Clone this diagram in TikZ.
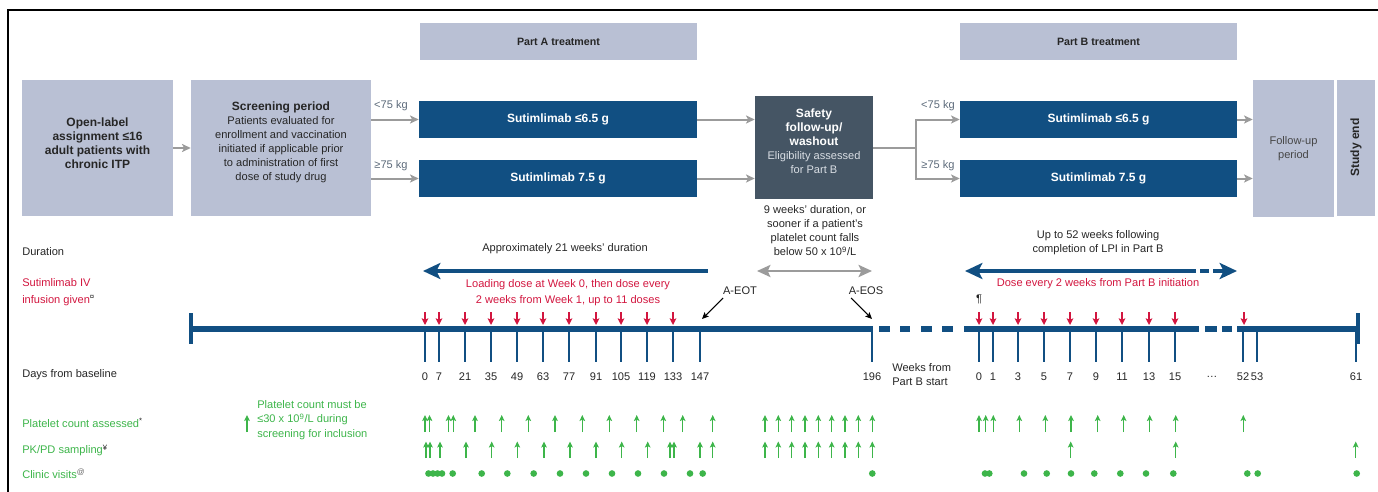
\documentclass[tikz,border=0pt]{standalone}
\usepackage{fontspec}
\setmainfont{Liberation Sans}
\usetikzlibrary{arrows.meta}
\definecolor{lbox}{HTML}{B9C0D4}
\definecolor{dblue}{HTML}{114F82}
\definecolor{slate}{HTML}{455564}
\definecolor{garr}{HTML}{9B9B9B}
\definecolor{tred}{HTML}{D2163F}
\definecolor{tgreen}{HTML}{3DB54A}
\definecolor{txt}{HTML}{262626}
\definecolor{kgtxt}{HTML}{5C6A7A}
\definecolor{safetxt}{HTML}{D9DEE4}
\begin{document}
\begin{tikzpicture}[x=0.75pt,y=-0.75pt,
  every node/.style={font=\fontsize{8.3}{10.5}\selectfont, text=txt, inner sep=0pt},
  lb/.style={fill=lbox, draw=none},
  db/.style={fill=dblue, draw=none, text=white, font=\fontsize{9}{10.5}\selectfont\bfseries},
  bt/.style={font=\fontsize{9}{10.5}\selectfont\bfseries},
  hdr/.style={font=\fontsize{8}{10}\selectfont\bfseries},
  garrow/.style={draw=garr, line width=1.5pt, -{Stealth[length=6.5pt,width=6pt,inset=1.5pt]}},
  gline/.style={draw=garr, line width=1.5pt},
  kgl/.style={text=kgtxt},
  bar/.style={draw=dblue, line width=3.8pt},
  tick/.style={draw=dblue, line width=0.9pt},
  redarr/.style={draw=tred, line width=1pt, -{Stealth[length=5pt,width=5pt,inset=1pt]}},
  grarr/.style={draw=tgreen, line width=1pt, -{Stealth[length=4.5pt,width=4.2pt,inset=1pt]}},
  karr/.style={draw=black, line width=0.8pt, -{Stealth[length=5pt,width=4.5pt,inset=1pt]}},
  durblue/.style={draw=dblue, line width=2.6pt},
  bluehead/.style={-{Stealth[length=13pt,width=12pt,inset=3pt]}},
  bluetail/.style={{Stealth[length=13pt,width=12pt,inset=3pt]}-},
  redtxt/.style={text=tred},
  greentxt/.style={text=tgreen}
]
\useasboundingbox (0,0) rectangle (1378,492);
% frame
\draw[line width=1.5pt] (8,492) -- (8,10) -- (1378,10);

% headers
\node[lb, minimum width=277*0.75pt, minimum height=37*0.75pt, hdr] (partA) at (558.5,41.5) {Part A treatment};
\node[lb, minimum width=277*0.75pt, minimum height=37*0.75pt, hdr] (partB) at (1098.5,41.5) {Part B treatment};

% left boxes
\node[lb, minimum width=151*0.75pt, minimum height=136*0.75pt] (open) at (97.5,148) {};
\node[bt, align=center] (opent) at (97.5,143) {Open-label\\assignment ≤16\\adult patients with\\chronic ITP};
\node[lb, minimum width=180*0.75pt, minimum height=136*0.75pt] (scr) at (281,148) {};
\node[align=center] (scrt) at (281,142) {\textbf{\fontsize{9}{10.5}\selectfont Screening period}\\Patients evaluated for\\enrollment and vaccination\\initiated if applicable prior\\to administration of first\\dose of study drug};
\draw[garrow] (open.east) -- (scr.west);

% part A boxes
\node[db, minimum width=278*0.75pt, minimum height=37*0.75pt] (a1) at (558,119.5) {Sutimlimab ≤6.5 g};
\node[db, minimum width=278*0.75pt, minimum height=37*0.75pt] (a2) at (558,178.5) {Sutimlimab 7.5 g};
\draw[garrow] (scr.east |- a1) -- (a1.west);
\draw[garrow] (scr.east |- a2) -- (a2.west);
\node[kgl] (kgA1) at (391,106) {<75 kg};
\node[kgl] (kgA2) at (391,166) {≥75 kg};

% safety box
\node[fill=slate, minimum width=118*0.75pt, minimum height=103*0.75pt] (saf) at (814,147.5) {};
\node[align=center, text=white, font=\fontsize{9}{10.6}\selectfont] (saft) at (814,141) {\textbf{Safety}\\\textbf{follow-up/}\\\textbf{washout}\\{\color{safetxt}\fontsize{8.3}{10.6}\selectfont Eligibility assessed}\\{\color{safetxt}\fontsize{8.3}{10.6}\selectfont for Part B}};
\draw[garrow] (a1.east) -- (saf.west |- a1);
\draw[garrow] (a2.east) -- (saf.west |- a2);

% part B boxes
\node[db, minimum width=277*0.75pt, minimum height=37*0.75pt] (b1) at (1098.5,119.5) {Sutimlimab ≤6.5 g};
\node[db, minimum width=277*0.75pt, minimum height=37*0.75pt] (b2) at (1098.5,178.5) {Sutimlimab 7.5 g};
\coordinate (split) at (916,147.5);
\draw[gline] (saf.east) -- (split);
\draw[garrow] (split) |- (b1.west);
\draw[garrow] (split) |- (b2.west);
\node[kgl] (kgB1) at (938,106) {<75 kg};
\node[kgl] (kgB2) at (938,166) {≥75 kg};

% follow-up and study end
\node[lb, minimum width=81*0.75pt, minimum height=136*0.75pt] (fu) at (1293.5,148.5) {};
\node[align=center, text=txt!85] (fut) at (1293.5,148.5) {Follow-up\\period};
\node[lb, minimum width=38*0.75pt, minimum height=136*0.75pt] (se) at (1356,148) {};
\node[bt, rotate=90] (set) at (1356,147.5) {Study end};
\draw[garrow] (b1.east) -- (fu.west |- b1);
\draw[garrow] (b2.east) -- (fu.west |- b2);

% row labels
\node[anchor=west] (lDur) at (22,252) {Duration};
\node[anchor=west, align=left, redtxt, font=\fontsize{8.3}{12.8}\selectfont] (lInf) at (22,292) {Sutimlimab IV\\infusion given\textsuperscript{\color{txt}¤}};
\node[anchor=west] (lDays) at (22,374.5) {Days from baseline};
\node[anchor=west, greentxt] (lPlt) at (22,423) {Platelet count assessed\textsuperscript{\color{txt}*}};
\node[anchor=west, greentxt] (lPK) at (22,450.5) {PK/PD sampling\textsuperscript{\color{txt}¥}};
\node[anchor=west, greentxt] (lCV) at (22,474) {Clinic visits\textsuperscript{\color{txt!70}@}};

% screening note
\node[anchor=west, align=left, greentxt, font=\fontsize{8.3}{10.8}\selectfont] (scrnote) at (257,420) {Platelet count must be\\≤30 x 10\textsuperscript{9}/L during\\screening for inclusion};
\coordinate (snA) at (247,432);
\coordinate (snB) at (247,415);
\draw[grarr] (snA) -- (snB);

% timeline bar
\draw[bar] (191,329) -- (873,329);
\foreach \a/\b in {879/890, 900/910, 921/932, 942/953}
  \draw[bar] (\a,329) -- (\b,329);
\draw[bar] (964,329) -- (1199,329);
\draw[bar] (1205,329) -- (1217,329);
\draw[bar] (1222,329) -- (1232,329);
\draw[bar] (1237,329) -- (1358,329);
\draw[draw=dblue, line width=2.4pt] (191,313) -- (191,344);
\draw[draw=dblue, line width=2.4pt] (1358,313) -- (1358,344);

% ticks and day labels
\foreach \x/\l in {425/0, 439/7, 465/21, 491/35, 517/49, 543/63, 569/77, 596/91, 621/105, 647/119, 673/133, 700/147, 872/196,
  979/0, 993/1, 1018/3, 1044/5, 1070/7, 1096/9, 1122/11, 1149/13, 1175/15, 1243/52, 1257/53, 1356/61} {
  \draw[tick] (\x,330) -- (\x,362);
  \node (d\x) at (\x,376.5) {\l};
}
\node (dots) at (1212,376.5) {…};
\node[anchor=west, align=left] (wk) at (892,375) {Weeks from\\Part B start};

% red infusion arrows
\foreach \x in {425,439,465,491,517,543,569,596,621,647,673,979,993,1018,1044,1070,1096,1122,1149,1175,1244}
  \draw[redarr] (\x,312) -- (\x,325);
\node (para) at (979,299) {¶};

% Part A duration
\node (durA) at (565,249) {Approximately 21 weeks’ duration};
\coordinate (dA1) at (423,271);
\coordinate (dA2) at (708,271);
\draw[durblue, bluehead, bluetail] (dA1) -- (dA2);
\node[align=center, redtxt, font=\fontsize{8.3}{11.8}\selectfont] (loadtxt) at (568,293) {Loading dose at Week 0, then dose every\\2 weeks from Week 1, up to 11 doses};

% washout duration
\node[align=center, font=\fontsize{8.3}{10.7}\selectfont] (washtxt) at (815,230.5) {9 weeks’ duration, or\\sooner if a patient’s\\platelet count falls\\below 50 x 10\textsuperscript{9}/L};
\coordinate (dW1) at (757,271);
\coordinate (dW2) at (872,271);
\draw[draw=garr, line width=2.2pt, {Stealth[length=10pt,width=9pt,inset=2pt]}-{Stealth[length=10pt,width=9pt,inset=2pt]}] (dW1) -- (dW2);

% EOT / EOS
\node (eot) at (740,291) {A-EOT};
\node (eos) at (866,291) {A-EOS};
\coordinate (eotS) at (723,298);
\coordinate (eotE) at (702,319);
\coordinate (eosS) at (851,298);
\coordinate (eosE) at (872,319);
\draw[karr] (eotS) -- (eotE);
\draw[karr] (eosS) -- (eosE);

% Part B duration
\node[align=center] (durB) at (1098,243) {Up to 52 weeks following\\completion of LPI in Part B};
\coordinate (dB1) at (965,271);
\coordinate (dB2) at (1196,271);
\coordinate (dB3) at (1200,271);
\coordinate (dB4) at (1209,271);
\coordinate (dB5) at (1213,271);
\coordinate (dB6) at (1237,271);
\draw[durblue, bluetail] (dB1) -- (dB2);
\draw[durblue] (dB3) -- (dB4);
\draw[durblue, bluehead] (dB5) -- (dB6);
\node[redtxt] (doseB) at (1098,284) {Dose every 2 weeks from Part B initiation};

% platelet count arrows
\foreach \x in {425,429.5,448.5,453.3,475,501.7,528.3,555,582.3,609.3,636.7,663.3,682.7,712.7,
  765,778.3,791.7,805,818.3,831.7,845,858.3,872.3,
  979,985.7,993.3,1019.3,1045.3,1071,1097.7,1123.7,1149.7,1175.7,1243.3}
  \draw[grarr] (\x,432) -- (\x,415);
% PK/PD arrows
\foreach \x in {426,430,440,466,491.7,517.3,544,570,596,621.7,647.7,670,674,700,712.7,
  765,778.3,791.7,805,818.3,831.7,845,858.3,872.3,
  1070.7,1175.7,1355.7}
  \draw[grarr] (\x,458) -- (\x,441.5);
% clinic visits
\foreach \x in {428.5,433,437.5,442,452.7,481.7,507.3,533.7,560,586,612,638,664,690,702.7,872.3,
  985,989.3,1024,1046.7,1071,1094.3,1120.3,1146,1173.3,1247.3,1257.7,1356.7}
  \fill[tgreen] (\x,473.5) circle[radius=2.5pt];
\end{tikzpicture}
\end{document}
